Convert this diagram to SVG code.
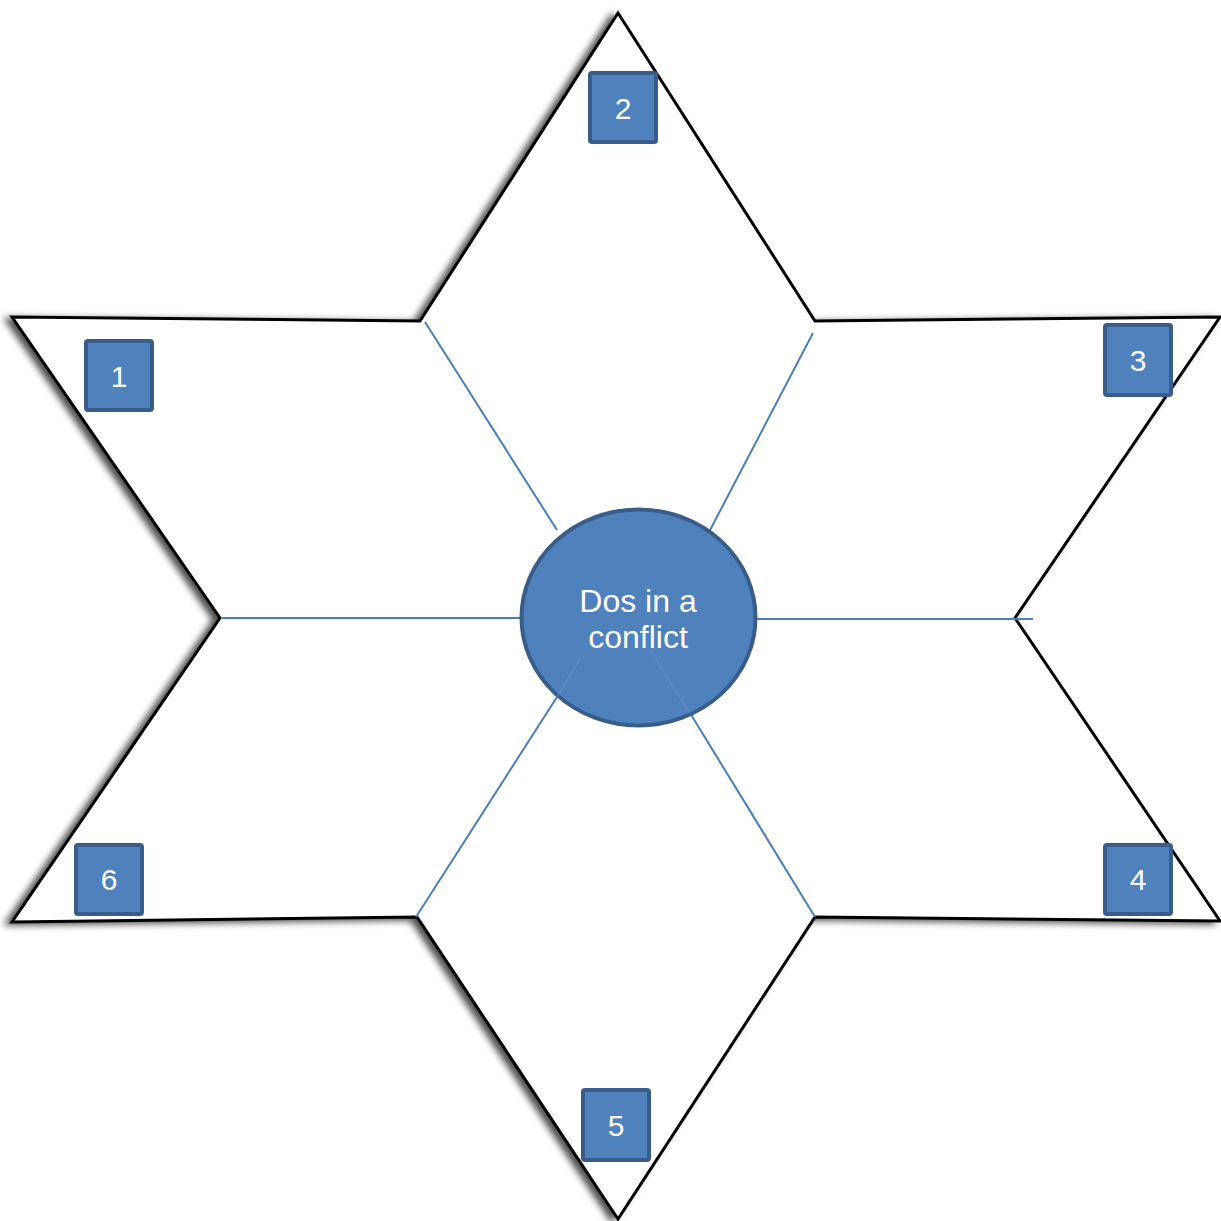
<svg xmlns="http://www.w3.org/2000/svg" width="1221" height="1221" viewBox="0 0 1221 1221">
<defs>
<filter id="sh" x="-10%" y="-10%" width="120%" height="120%">
<feGaussianBlur in="SourceAlpha" stdDeviation="3.5"/>
<feOffset dx="-6" dy="2" result="b"/>
<feComponentTransfer><feFuncA type="linear" slope="0.7"/></feComponentTransfer>
<feMerge><feMergeNode/><feMergeNode in="SourceGraphic"/></feMerge>
</filter>
</defs>
<style>
.star{fill:#fff;stroke:#000;stroke-width:3;stroke-linejoin:miter}
.spoke{stroke:#4a7ebb;stroke-width:2;fill:none}
.faint{stroke:#6f95c8;stroke-width:1.5;opacity:0.5}
.box{fill:#4f81bd;stroke:#385d8a;stroke-width:4}
.lbl{font-family:"Liberation Sans",Arial,sans-serif;font-size:30px;fill:#fff;text-anchor:middle}
.big{font-size:32px}
</style>
<rect width="1221" height="1221" fill="#fff"/>
<g id="star" filter="url(#sh)">
<polygon class="star" points="618,13 815,321 1220,317 1015,618 1220,921 815,917 618,1219 417,917 12,922 220,618 12,317 420,321"/>
</g>
<g id="connectors">
<line class="spoke" x1="425" y1="322" x2="557" y2="530"/>
<line class="spoke" x1="813" y1="333" x2="708" y2="534"/>
<line class="spoke" x1="222" y1="618" x2="522" y2="618"/>
<line class="spoke" x1="755" y1="619" x2="1033" y2="619"/>
<line class="spoke" x1="557" y1="697" x2="416" y2="917"/>
<line class="spoke" x1="690" y1="713" x2="815" y2="917"/>
</g>
<g id="center">
<ellipse cx="638.5" cy="617.5" rx="117" ry="108" fill="#4f81bd" stroke="#385d8a" stroke-width="4"/>
<line class="faint" x1="581" y1="657" x2="557" y2="697"/>
<line class="faint" x1="650" y1="650" x2="690" y2="713"/>
<text class="lbl big" x="638" y="612">Dos in a</text>
<text class="lbl big" x="638" y="648">conflict</text>
</g>
<g id="n1"><rect class="box" x="86" y="341" width="66" height="69" rx="2"/><text class="lbl" x="119" y="387">1</text></g>
<g id="n2"><rect class="box" x="590" y="73" width="66" height="69" rx="2"/><text class="lbl" x="623" y="119">2</text></g>
<g id="n3"><rect class="box" x="1105" y="325" width="66" height="70" rx="2"/><text class="lbl" x="1138" y="371">3</text></g>
<g id="n4"><rect class="box" x="1105" y="845" width="66" height="69" rx="2"/><text class="lbl" x="1138" y="890">4</text></g>
<g id="n5"><rect class="box" x="583" y="1090" width="66" height="70" rx="2"/><text class="lbl" x="616" y="1136">5</text></g>
<g id="n6"><rect class="box" x="76" y="845" width="66" height="69" rx="2"/><text class="lbl" x="109" y="890">6</text></g>
</svg>
